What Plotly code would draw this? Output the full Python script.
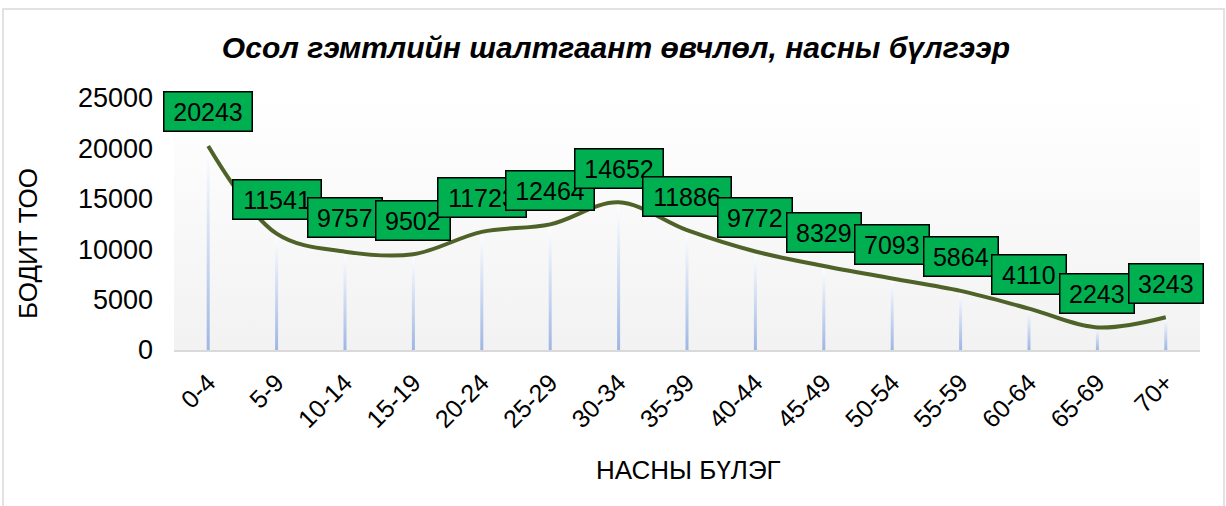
import plotly.graph_objects as go

categories = ["0-4", "5-9", "10-14", "15-19", "20-24", "25-29", "30-34", "35-39",
              "40-44", "45-49", "50-54", "55-59", "60-64", "65-69", "70+"]
values = [20243, 11541, 9757, 9502, 11723, 12464, 14652, 11886,
          9772, 8329, 7093, 5864, 4110, 2243, 3243]
y_ticks = [0, 5000, 10000, 15000, 20000, 25000]
y_tick_labels = ["0", "5000", "10000", "15000", "20000", "25000"]

FONT = "Arial, Liberation Sans, sans-serif"
W, H = 1226, 506
ML, MR, MT, MB = 174, 26, 98, 156
PW, PH = W - ML - MR, H - MT - MB

idx = list(range(len(categories)))
fig = go.Figure()

# plot-area background gradient
fig.add_trace(go.Scatter(
    x=[-0.5, 14.5, 14.5, -0.5, -0.5], y=[0, 0, 25000, 25000, 0],
    mode="lines", line=dict(width=0), fill="toself",
    fillgradient=dict(type="vertical", colorscale=[[0, "#f2f2f2"], [1, "#ffffff"]]),
    hoverinfo="skip", showlegend=False))

# drop lines (gradient)
hw = 0.022
for i, v in zip(idx, values):
    fig.add_trace(go.Scatter(
        x=[i - hw, i + hw, i + hw, i - hw, i - hw], y=[0, 0, v, v, 0],
        mode="lines", line=dict(width=0), fill="toself",
        fillgradient=dict(type="vertical",
                          colorscale=[[0, "#9db6e4"], [0.55, "#d3def3"], [1, "#ffffff"]]),
        hoverinfo="skip", showlegend=False))

# smoothed line
fig.add_trace(go.Scatter(
    x=idx, y=values, mode="lines",
    line=dict(color="#4f6228", width=4, shape="spline", smoothing=1),
    showlegend=False))

annotations = []
for i, v in zip(idx, values):
    t = str(v)
    annotations.append(dict(
        x=i, y=v, xref="x", yref="y", text=t, showarrow=False, yshift=34,
        font=dict(family=FONT, size=25, color="black"),
        bgcolor="#00b050", bordercolor="black", borderwidth=1.5, borderpad=3.5,
        width=len(t) * 14.4 + 8, height=31))

annotations.append(dict(
    x=(28 - ML) / PW, y=(MT + PH - 244) / PH, xref="paper", yref="paper",
    xanchor="center", yanchor="middle",
    text="БОДИТ ТОО", textangle=-90, showarrow=False,
    font=dict(family=FONT, size=26, color="black")))
annotations.append(dict(
    x=(688 - ML) / PW, y=(MT + PH - 487) / PH, xref="paper", yref="paper",
    text="НАСНЫ БҮЛЭГ", showarrow=False,
    font=dict(family=FONT, size=26, color="black")))

fig.update_layout(
    width=W, height=H,
    margin=dict(l=ML, r=MR, t=MT, b=MB),
    paper_bgcolor="white", plot_bgcolor="white",
    title=dict(text="<b><i>Осол гэмтлийн шалтгаант өвчлөл, насны бүлгээр</i></b>",
               x=616 / W, xref="container", xanchor="center",
               y=1 - 47 / H, yref="container", yanchor="middle",
               font=dict(family=FONT, size=30, color="black")),
    xaxis=dict(range=[-0.5, 14.5], tickmode="array", tickvals=idx, ticktext=categories,
               tickangle=-45, showgrid=False, zeroline=False,
               showline=True, linecolor="#d9d9d9", linewidth=2, ticks="",
               ticklabelstandoff=6,
               tickfont=dict(family=FONT, size=25, color="black")),
    yaxis=dict(range=[0, 25000], tickmode="array", tickvals=y_ticks,
               ticktext=y_tick_labels,
               showgrid=False, zeroline=False, showline=False, ticks="",
               ticklabelstandoff=20,
               tickfont=dict(family=FONT, size=27, color="black")),
    annotations=annotations,
    shapes=[dict(type="rect", xref="paper", yref="paper",
                 x0=(3 - ML) / PW, x1=(1224 - ML) / PW,
                 y0=(MT + PH - 512) / PH, y1=(MT + PH - 9) / PH,
                 line=dict(color="#d9d9d9", width=1.5), layer="below")],
)

fig.write_html("out.html", config={"displayModeBar": False},
               post_script="document.body.style.margin='0';document.body.style.overflow='hidden';")
